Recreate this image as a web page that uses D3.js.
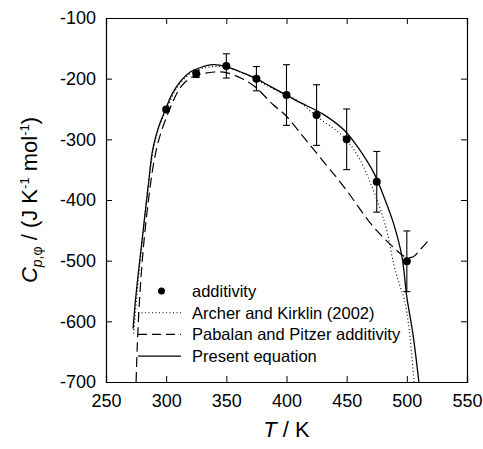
<!DOCTYPE html>
<html lang="en">
<head>
<meta charset="UTF-8">
<title>Cp,phi vs T</title>
<style>
    body { margin: 0; background: #fff; }
    svg text { font-family: Arial, "Liberation Sans", sans-serif; fill: #000; }
</style>
</head>
<body>
<script src="https://d3js.org/d3.v7.min.js"></script>
<script>
// additivity points with error bars
var pointT = [300, 325, 350, 375, 400, 425, 450, 475, 500];
var pointC = [-251, -192, -179, -200, -227, -260, -300, -370, -501];
var pointErr = [0, 6, 20, 20, 50, 50, 50, 50, 50];

// Archer and Kirklin (2002) - dotted
var archerT = [273, 276, 280, 285, 290, 295, 300, 307, 315, 323, 332, 342, 352, 365, 378, 392, 409, 425, 448, 460, 470, 478, 484, 489, 494, 498, 502, 506];
var archerC = [-620, -550, -470, -380, -310, -274, -252, -222, -200, -188, -182, -180, -182, -192, -205, -220, -236, -262, -297, -330, -373, -415, -456, -505, -540, -565, -614, -700];

// Pabalan and Pitzer additivity - dashed
var pabalanT = [275, 276, 278, 281, 285, 290, 295, 300, 306, 312, 320, 330, 340, 350, 362, 373, 389, 400, 414, 430, 448, 470, 482, 490, 498, 505, 512, 520];
var pabalanC = [-700, -640, -560, -480, -405, -335, -293, -265, -236, -214, -199, -192, -189, -190, -199, -212, -243, -262, -296, -335, -379, -439, -465, -480, -493, -494, -480, -462];

// Present equation - solid
var presentT = [272.5, 275, 280, 285, 289, 294, 298, 305, 312, 320, 328, 339, 350, 362, 373, 385, 398, 412, 430, 448, 460, 473, 481, 489, 496, 500, 505, 510];
var presentC = [-612, -555, -466, -378, -315, -278, -258, -225, -204, -189, -182, -177, -180, -189, -198, -211, -225, -240, -258, -285, -315, -357, -395, -439, -494, -560, -620, -700];

var xTicks = [250, 300, 350, 400, 450, 500, 550];
var yTicks = [-100, -200, -300, -400, -500, -600, -700];

var legendLabels = ["additivity", "Archer and Kirklin (2002)", "Pabalan and Pitzer additivity", "Present equation"];

var width = 483, height = 449;
var margin = {left: 106, right: 16, top: 18, bottom: 67};
var w = width - margin.left - margin.right;
var h = height - margin.top - margin.bottom;

var svg = d3.select("body").append("svg")
    .attr("width", width)
    .attr("height", height);

var g = svg.append("g")
    .attr("transform", "translate(" + margin.left + "," + margin.top + ")");

var x = d3.scaleLinear().domain([250, 550]).range([0, w]);
var y = d3.scaleLinear().domain([-700, -100]).range([h, 0]);

g.append("clipPath").attr("id", "clip")
    .append("rect").attr("width", w).attr("height", h);

// axes with inward ticks on all four sides
var tickLen = 6;
var bottomAxis = g.append("g")
    .attr("transform", "translate(0," + h + ")")
    .call(d3.axisBottom(x).tickValues(xTicks).tickSize(-tickLen).tickPadding(12));
var leftAxis = g.append("g")
    .call(d3.axisLeft(y).tickValues(yTicks).tickSize(-tickLen).tickPadding(10)
        .tickFormat(function(d) { return "-" + Math.abs(d); }));
var topAxis = g.append("g")
    .call(d3.axisTop(x).tickValues(xTicks).tickSize(-tickLen).tickFormat(""));
var rightAxis = g.append("g")
    .attr("transform", "translate(" + w + ",0)")
    .call(d3.axisRight(y).tickValues(yTicks).tickSize(-tickLen).tickFormat(""));

[bottomAxis, leftAxis, topAxis, rightAxis].forEach(function(a) {
    a.select(".domain").attr("stroke", "#000").attr("stroke-width", 1.2);
    a.selectAll(".tick line").attr("stroke", "#000").attr("stroke-width", 1);
    a.selectAll(".tick text").attr("font-size", 18).attr("font-family", "Arial, 'Liberation Sans', sans-serif").attr("fill", "#000");
});

// curves
var line = d3.line()
    .x(function(d) { return x(d[0]); })
    .y(function(d) { return y(d[1]); })
    .curve(d3.curveCatmullRom.alpha(0.5));

var curves = g.append("g").attr("clip-path", "url(#clip)");

curves.append("path")
    .datum(d3.zip(archerT, archerC))
    .attr("d", line)
    .attr("fill", "none").attr("stroke", "#000").attr("stroke-width", 1.1)
    .attr("stroke-dasharray", "1,2.5");

curves.append("path")
    .datum(d3.zip(pabalanT, pabalanC))
    .attr("d", line)
    .attr("fill", "none").attr("stroke", "#000").attr("stroke-width", 1.2)
    .attr("stroke-dasharray", "10,5");

curves.append("path")
    .datum(d3.zip(presentT, presentC))
    .attr("d", line)
    .attr("fill", "none").attr("stroke", "#000").attr("stroke-width", 1.3);

// error bars and points
var pts = d3.range(pointT.length).map(function(i) {
    return {t: pointT[i], c: pointC[i], e: pointErr[i]};
});

var bars = g.append("g").selectAll("g")
    .data(pts.filter(function(d) { return d.e > 0; }))
    .enter().append("g")
    .attr("stroke", "#000").attr("stroke-width", 1.1);

bars.append("line")
    .attr("x1", function(d) { return x(d.t); })
    .attr("x2", function(d) { return x(d.t); })
    .attr("y1", function(d) { return y(d.c + d.e); })
    .attr("y2", function(d) { return y(d.c - d.e); });
bars.append("line")
    .attr("x1", function(d) { return x(d.t) - 3.5; })
    .attr("x2", function(d) { return x(d.t) + 3.5; })
    .attr("y1", function(d) { return y(d.c + d.e); })
    .attr("y2", function(d) { return y(d.c + d.e); });
bars.append("line")
    .attr("x1", function(d) { return x(d.t) - 3.5; })
    .attr("x2", function(d) { return x(d.t) + 3.5; })
    .attr("y1", function(d) { return y(d.c - d.e); })
    .attr("y2", function(d) { return y(d.c - d.e); });

g.append("g").selectAll("circle")
    .data(pts)
    .enter().append("circle")
    .attr("cx", function(d) { return x(d.t); })
    .attr("cy", function(d) { return y(d.c); })
    .attr("r", 4)
    .attr("fill", "#000");

// legend
var legend = g.append("g").attr("transform", "translate(32,273)");
var rowH = 21.7;
legend.append("circle").attr("cx", 23.5).attr("cy", 0).attr("r", 3.5).attr("fill", "#000");
var styles = [null, "1,2.5", "9,5", null];
for (var i = 1; i < 4; i++) {
    var ln = legend.append("line")
        .attr("x1", 0).attr("x2", 43)
        .attr("y1", i * rowH).attr("y2", i * rowH)
        .attr("stroke", "#000").attr("stroke-width", i === 1 ? 1.1 : 1.2);
    if (styles[i]) ln.attr("stroke-dasharray", styles[i]);
}
legend.selectAll("text")
    .data(legendLabels)
    .enter().append("text")
    .attr("x", 54)
    .attr("y", function(d, i) { return i * rowH; })
    .attr("dy", "0.36em")
    .attr("font-size", 16.5)
    .text(function(d) { return d; });

// axis titles
var xt = svg.append("text")
    .attr("x", margin.left + w / 2)
    .attr("y", 437)
    .attr("text-anchor", "middle")
    .attr("font-size", 22);
xt.append("tspan").attr("font-style", "italic").text("T");
xt.append("tspan").text(" / K");

var yt = svg.append("text")
    .attr("transform", "translate(37," + (margin.top + h / 2) + ") rotate(-90)")
    .attr("text-anchor", "middle")
    .attr("font-size", 22);
yt.append("tspan").attr("font-style", "italic").text("C");
yt.append("tspan").attr("font-size", 14).attr("dy", 5).attr("font-style", "italic").text("p");
yt.append("tspan").attr("font-size", 14).text(",φ");
yt.append("tspan").attr("dy", -5).text(" / (J K");
yt.append("tspan").attr("font-size", 13).attr("dy", -8).text("-1");
yt.append("tspan").attr("dy", 8).text(" mol");
yt.append("tspan").attr("font-size", 13).attr("dy", -8).text("-1");
yt.append("tspan").attr("dy", 8).text(")");
</script>
</body>
</html>
